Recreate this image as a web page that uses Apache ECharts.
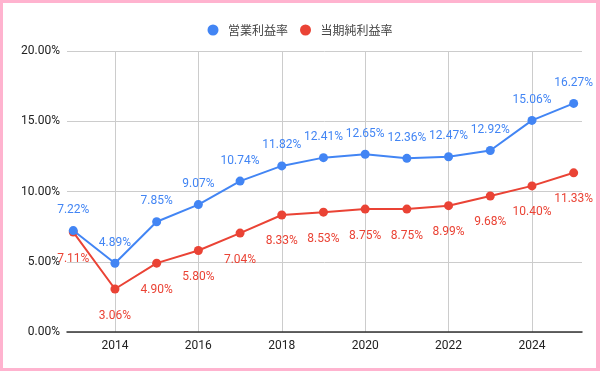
<!DOCTYPE html>
<html><head><meta charset="utf-8">
<script src="https://cdn.jsdelivr.net/npm/echarts@6/dist/echarts.min.js"></script>
<style>
html,body{margin:0;padding:0;background:#ffb3cf;}
#frame{position:absolute;left:3px;top:3px;width:593px;height:365px;background:#fff;}
#chart{position:absolute;left:-3px;top:-3px;width:600px;height:371px;}
</style></head>
<body><div id="frame"><div id="chart"></div></div>
<script>
const years = [2013,2014,2015,2016,2017,2018,2019,2020,2021,2022,2023,2024,2025];
const operatingMargin = [7.22,4.89,7.85,9.07,10.74,11.82,12.41,12.65,12.36,12.47,12.92,15.06,16.27];
const netMargin = [7.11,3.06,4.90,5.80,7.04,8.33,8.53,8.75,8.75,8.99,9.68,10.40,11.33];
const xTicks = [2014,2016,2018,2020,2022,2024];
const seriesNames = ['営業利益率','当期純利益率'];

const chart = echarts.init(document.getElementById('chart'), null, {renderer:'canvas'});
const fmt = v => v.toFixed(2) + '%';
const pairs = arr => years.map((y,i)=>[y,arr[i]]);
chart.setOption({
  animation:false,
  textStyle:{fontFamily:'Roboto, "Noto Sans CJK JP", sans-serif'},
  legend:{
    top:19, left:'center', icon:'circle', itemWidth:20, itemHeight:11, itemGap:12,
    textStyle:{fontSize:12, color:'#444', fontFamily:'"Noto Sans CJK JP", sans-serif'},
    data:seriesNames
  },
  grid:{left:67, right:18, top:51, bottom:39, containLabel:false},
  xAxis:{
    type:'value', min:2012.85, max:2025.2,
    axisLine:{show:true, onZero:false, lineStyle:{color:'#333', width:1.5}},
    axisTick:{show:false, customValues:xTicks},
    axisLabel:{customValues:xTicks, color:'#222', fontSize:12, margin:8, formatter:v=>String(v)},
    splitLine:{show:true, lineStyle:{color:'#ccc', width:1}}
  },
  yAxis:{
    type:'value', min:0, max:20, interval:5,
    axisLine:{show:false}, axisTick:{show:false},
    axisLabel:{color:'#222', fontSize:12, margin:7, formatter:v=>fmt(v)},
    splitLine:{show:true, lineStyle:{color:'#ccc', width:1}}
  },
  series:[
    {name:seriesNames[0], type:'line', data:pairs(operatingMargin), color:'#4285F4',
     symbol:'circle', symbolSize:9, lineStyle:{width:2},
     label:{show:true, position:'top', distance:10, color:'#4285F4', fontSize:12, formatter:p=>fmt(p.value[1])},
     emphasis:{disabled:true}, z:3},
    {name:seriesNames[1], type:'line', data:pairs(netMargin), color:'#EA4335',
     symbol:'circle', symbolSize:9, lineStyle:{width:2},
     label:{show:true, position:'bottom', distance:16, color:'#EA4335', fontSize:12, formatter:p=>fmt(p.value[1])},
     emphasis:{disabled:true}, z:2}
  ]
});
</script></body></html>
